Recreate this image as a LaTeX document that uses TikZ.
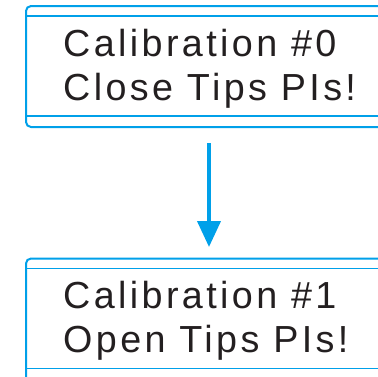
\documentclass[tikz,border=0pt]{standalone}
\usepackage{fontspec}
\setmainfont{Liberation Sans}[LetterSpace=9]
\usetikzlibrary{arrows.meta}
\definecolor{cblue}{HTML}{00A0E9}
\definecolor{ctext}{HTML}{231F20}
\tikzset{
  outerline/.style={draw=cblue, line width=2pt, rounded corners=5pt},
  innerline/.style={draw=cblue, line width=1.5pt},
  label/.style={anchor=base west, inner sep=0pt, text=ctext, font=\fontsize{37.7pt}{44pt}\selectfont},
  flow/.style={draw=cblue, line width=4pt, -{Triangle[width=23pt,length=26pt]}}
}
\begin{document}
\begin{tikzpicture}[x=1pt,y=-1pt]
\useasboundingbox (0,0) rectangle (378,376);
% box 0
\draw[outerline] (380,6) -- (26,6) -- (26,127) -- (380,127);
\draw[innerline] (26,16) -- (380,16);
\draw[innerline] (26,116) -- (380,116);
\node[label] (c0) at (63,56.5) {Calibration \#0};
\node[label] (t0) at (63,100.5) {Close Tips PIs!};
% box 1
\draw[outerline] (380,258.5) -- (26,258.5) -- (26,385);
\draw[innerline] (26,268.3) -- (380,268.3);
\draw[innerline] (26,368.3) -- (380,368.3);
\node[label] (c1) at (63,308.5) {Calibration \#1};
\node[label] (t1) at (63,352.5) {Open Tips PIs!};
% arrow
\coordinate (a0) at (209,143);
\coordinate (a1) at (209,247);
\draw[flow] (a0) -- (a1);
\end{tikzpicture}
\end{document}
